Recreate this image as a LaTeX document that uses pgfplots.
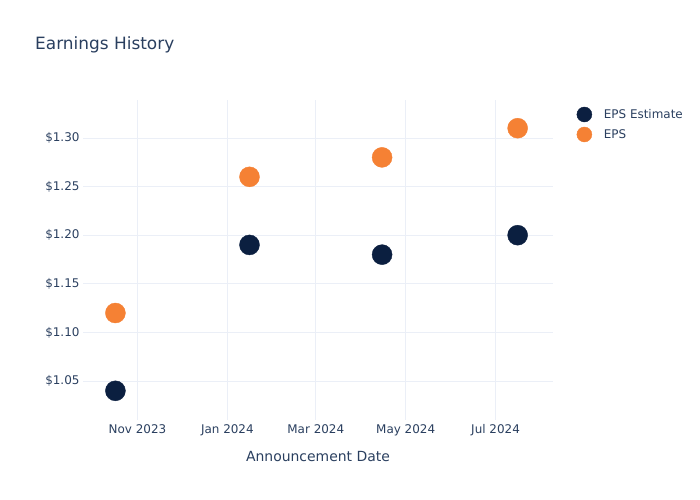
\documentclass[border=0pt]{standalone}
\usepackage{pgfplots}
\pgfplotsset{compat=1.18}
\usepackage{fontspec}
\setmainfont{DejaVu Sans}
\definecolor{txt}{HTML}{2A3F5F}
\definecolor{navy}{HTML}{0B1F40}
\definecolor{orng}{HTML}{F58134}
\definecolor{grd}{HTML}{EBEFF7}
\begin{document}
\begin{tikzpicture}[x=1bp,y=1bp]
\path (0,0) rectangle (700,500);
\node[anchor=base west, text=txt, font=\fontsize{17}{20}\selectfont, inner sep=0pt] at (35,450) {Earnings History};
\begin{axis}[
  at={(83bp,80bp)}, anchor=south west,
  scale only axis, width=470bp, height=320bp,
  xmin=-37, xmax=282, ymin=1.010, ymax=1.339,
  axis line style={draw=none},
  tick style={draw=none},
  grid=major, grid style={grd, line width=0.8bp},
  xtick={0,61,121,182,243},
  xticklabels={Nov 2023,Jan 2024,Mar 2024,May 2024,Jul 2024},
  ytick={1.05,1.10,1.15,1.20,1.25,1.30},
  yticklabels={\$1.05,\$1.10,\$1.15,\$1.20,\$1.25,\$1.30},
  tick label style={text=txt, font=\fontsize{12}{14}\selectfont},
  xticklabel style={yshift=-1bp},
  /pgf/number format/assume math mode=true,
  xlabel={Announcement Date},
  xlabel style={text=txt, font=\fontsize{14}{16}\selectfont, yshift=-8bp},
  legend style={at={(1.044,0.985)}, anchor=north west, draw=none, fill=none,
    font=\fontsize{12}{14}\selectfont, text=txt, row sep=5bp},
  legend image code/.code={\draw[mark=*, mark size=7.5bp] plot coordinates {(0bp,0bp)};},
  legend cell align=left,
  clip=false,
]
\addplot[only marks, mark=*, mark size=10bp, color=navy] coordinates {
  (-15,1.04) (76,1.19) (166,1.18) (258,1.20)};
\addlegendentry{\hspace{10bp}EPS Estimate}
\addplot[only marks, mark=*, mark size=10bp, color=orng] coordinates {
  (-15,1.12) (76,1.26) (166,1.28) (258,1.31)};
\addlegendentry{\hspace{10bp}EPS}
\end{axis}
\end{tikzpicture}
\end{document}
